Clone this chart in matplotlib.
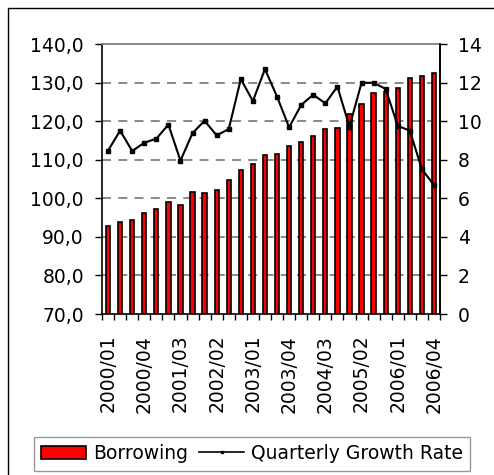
import matplotlib
matplotlib.use('Agg')
import matplotlib.pyplot as plt
from matplotlib.patches import Rectangle, Patch
from matplotlib.lines import Line2D

quarters = [f'{y}/{q:02d}' for y in range(2000, 2007) for q in range(1, 5)]
borrowing = [92.9, 93.9, 94.5, 96.1, 97.1, 99.1, 98.2, 101.7, 101.3, 102.2,
             104.8, 107.4, 109.0, 111.1, 111.6, 113.6, 114.7, 116.2, 117.9, 118.3,
             121.9, 124.5, 127.2, 127.6, 128.7, 131.3, 131.8, 132.4]
growth_rate = [8.47, 9.51, 8.45, 8.88, 9.09, 9.82, 7.95, 9.38, 10.02, 9.26,
               9.59, 12.18, 11.04, 12.70, 11.27, 9.68, 10.84, 11.37, 10.92, 11.79,
               9.71, 11.99, 11.99, 11.67, 9.75, 9.51, 7.50, 6.69]
left_ticks = [70, 80, 90, 100, 110, 120, 130, 140]
right_ticks = [0, 2, 4, 6, 8, 10, 12, 14]

plt.rcParams['font.family'] = 'DejaVu Sans'
FS = 13.5
W, H = 494, 475

fig = plt.figure(figsize=(W / 100, H / 100), dpi=100)

# outer chart frame (right and bottom edges fall off the canvas)
fig.patches.append(Rectangle((8 / W, -0.05), 1.2, 1 - 8 / H + 0.05, transform=fig.transFigure,
                             fill=False, edgecolor='black', linewidth=1.0))

ax = fig.add_axes([102 / W, 1 - 314 / H, (440 - 102) / W, (314 - 44) / H])
x = list(range(len(quarters)))
ax.bar(x, [b - 70 for b in borrowing], bottom=70, width=0.36,
       color='#ff0000', edgecolor='black', linewidth=1.2, zorder=3)
ax.set_xlim(-0.5, len(quarters) - 0.5)
ax.set_ylim(70, 140)
ax.set_yticks(left_ticks)
ax.set_yticklabels([f'{v:.1f}'.replace('.', ',') for v in left_ticks], fontsize=FS)
for v in left_ticks[1:-1]:
    ax.axhline(v, color='#808080', linewidth=1.3, dashes=(5, 4), zorder=1)

labels_idx = list(range(0, len(quarters), 3))
ax.set_xticks(labels_idx)
ax.set_xticklabels([quarters[i] for i in labels_idx], rotation=90, fontsize=FS)
ax.set_xticks([i - 0.5 for i in range(len(quarters) + 1)], minor=True)
ax.tick_params(axis='x', which='major', length=0, pad=15)
ax.tick_params(axis='x', which='minor', length=4, width=1, direction='out')
ax.tick_params(axis='y', length=5, width=1, direction='out', pad=8)

for s in ['left', 'bottom', 'right']:
    ax.spines[s].set_color('black')
    ax.spines[s].set_linewidth(1.2)
ax.spines['top'].set_color('#808080')
ax.spines['top'].set_linewidth(1.3)

ax2 = ax.twinx()
ax2.plot(x, growth_rate, color='black', linewidth=1.5, marker='s', markersize=2.3, zorder=4)
ax2.set_ylim(0, 14)
ax2.set_yticks(right_ticks)
ax2.set_yticklabels([str(v) for v in right_ticks], fontsize=FS)
ax2.tick_params(axis='y', length=5, width=1, direction='out', pad=8)
ax2.spines['right'].set_linewidth(1.2)
ax2.spines['top'].set_visible(False)
ax2.spines['left'].set_visible(False)
ax2.spines['bottom'].set_visible(False)

handles = [Patch(facecolor='#ff0000', edgecolor='black', linewidth=1.2),
           Line2D([0], [0], color='black', linewidth=1.2, marker='s', markersize=2)]
leg = fig.legend(handles, ['Borrowing', 'Quarterly Growth Rate'], ncol=2,
                 loc='center', bbox_to_anchor=((28 + 476) / 2 / W, 1 - 453.5 / H),
                 fontsize=FS, frameon=True, fancybox=False, borderpad=0.4,
                 handlelength=2.4, handletextpad=0.35, columnspacing=0.6,
                 handleheight=0.7, borderaxespad=0)
leg.get_frame().set_edgecolor('#808080')
leg.get_frame().set_linewidth(1.0)

fig.savefig('out.png', dpi=100)
